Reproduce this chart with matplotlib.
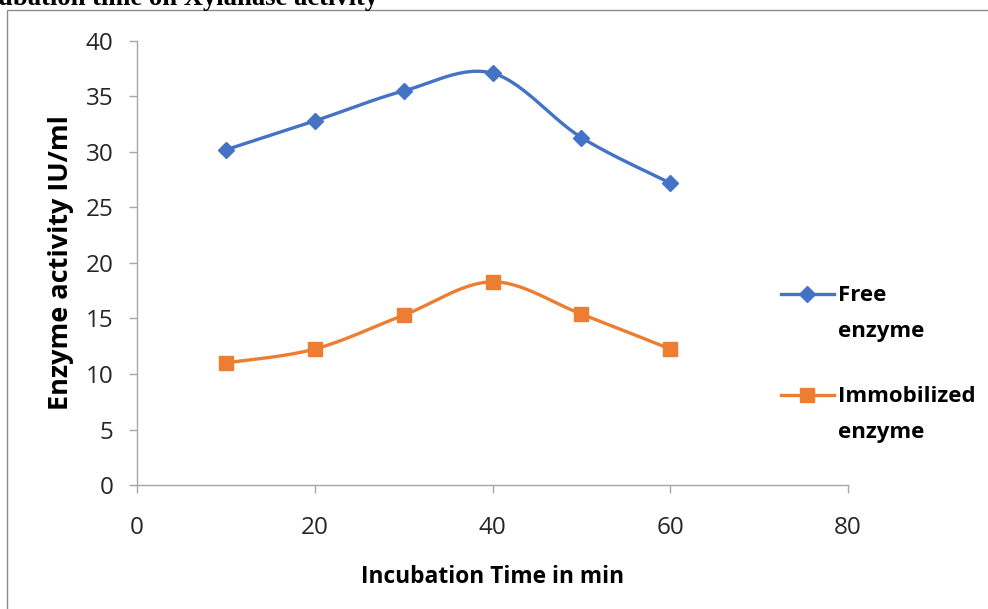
import numpy as np
import matplotlib
matplotlib.use('Agg')
import matplotlib.pyplot as plt
from matplotlib.patches import Rectangle

# 数据
time_min = [10, 20, 30, 40, 50, 60]
free_enzyme = [30.2, 32.8, 35.5, 37.1, 31.3, 27.2]
immobilized_enzyme = [11.0, 12.25, 15.3, 18.3, 15.4, 12.25]
series_labels = ['Free\nenzyme', 'Immobilized\nenzyme']
x_ticks = [0, 20, 40, 60, 80]
y_ticks = [0, 5, 10, 15, 20, 25, 30, 35, 40]


def smooth(x, y, n=30):
    # Excel 风格的平滑曲线（Catmull-Rom 转 Bezier）
    p = np.column_stack([x, y]).astype(float)
    pts = []
    for i in range(len(p) - 1):
        p0 = p[i - 1] if i > 0 else p[i]
        p3 = p[i + 2] if i + 2 < len(p) else p[i + 1]
        c1 = p[i] + (p[i + 1] - p0) / 6
        c2 = p[i + 1] - (p3 - p[i]) / 6
        t = np.linspace(0, 1, n)[:, None]
        seg = ((1 - t) ** 3) * p[i] + 3 * ((1 - t) ** 2) * t * c1 + 3 * (1 - t) * t ** 2 * c2 + t ** 3 * p[i + 1]
        pts.append(seg if i == 0 else seg[1:])
    pts = np.vstack(pts)
    return pts[:, 0], pts[:, 1]


plt.rcParams['font.family'] = ['Open Sans', 'DejaVu Sans']

fig = plt.figure(figsize=(9.88, 6.09), dpi=100)
ax = fig.add_axes([0.1387, 0.2036, 0.7196, 0.7291])

blue = '#4472C4'
orange = '#ED7D31'

sx, sy = smooth(time_min, free_enzyme)
ax.plot(sx, sy, color=blue, lw=2.4, zorder=2)
ax.plot(time_min, free_enzyme, linestyle='none', marker='D', ms=8.5, color=blue, zorder=3)
ax.plot([], [], color=blue, lw=2.4, marker='D', ms=8.5, label=series_labels[0])

sx, sy = smooth(time_min, immobilized_enzyme)
ax.plot(sx, sy, color=orange, lw=2.4, zorder=2)
ax.plot(time_min, immobilized_enzyme, linestyle='none', marker='s', ms=9.5, color=orange, zorder=3)
ax.plot([], [], color=orange, lw=2.4, marker='s', ms=9.5, label=series_labels[1])

ax.set_xlim(0, 80)
ax.set_ylim(0, 40)
ax.set_xticks(x_ticks)
ax.set_yticks(y_ticks)
for s in ['top', 'right']:
    ax.spines[s].set_visible(False)
for s in ['left', 'bottom']:
    ax.spines[s].set_color('#A6A6A6')
    ax.spines[s].set_linewidth(1.0)
ax.tick_params(axis='both', direction='out', length=6, width=1.0, color='#A6A6A6',
               labelsize=17.5, labelcolor='#262626')
ax.tick_params(axis='x', pad=16)
ax.tick_params(axis='y', pad=11)

ax.set_xlabel('Incubation Time in min', fontsize=16.4, fontweight='bold', labelpad=18)
ax.set_ylabel('Enzyme activity IU/ml', fontsize=19.5, fontweight='bold', labelpad=8)

leg = ax.legend(loc='upper left', bbox_to_anchor=(0.790, 0.532), bbox_transform=fig.transFigure,
                frameon=False, fontsize=16, handlelength=2.4, handletextpad=0.2,
                labelspacing=1.95, borderpad=0, borderaxespad=0)
for t in leg.get_texts():
    t.set_fontweight('bold')
    t.set_linespacing(1.95)
# 把图例标记对齐到第一行文字
for h in leg.legend_handles:
    h.set_ydata(np.asarray(h.get_ydata()) + 14)

# 外框和被裁切的标题
fig.patches.append(Rectangle((7 / 988, -0.1), 1.1, 1 - 10 / 609 + 0.1, transform=fig.transFigure,
                             fill=False, edgecolor='#8C8C8C', lw=1.0))
fig.text(-0.002, 1 - 5 / 609, 'ubation time on Xylanase activity', fontsize=19.2, fontweight='bold',
         family='Liberation Serif', ha='left', va='baseline')

plt.savefig('out.png', dpi=100)
